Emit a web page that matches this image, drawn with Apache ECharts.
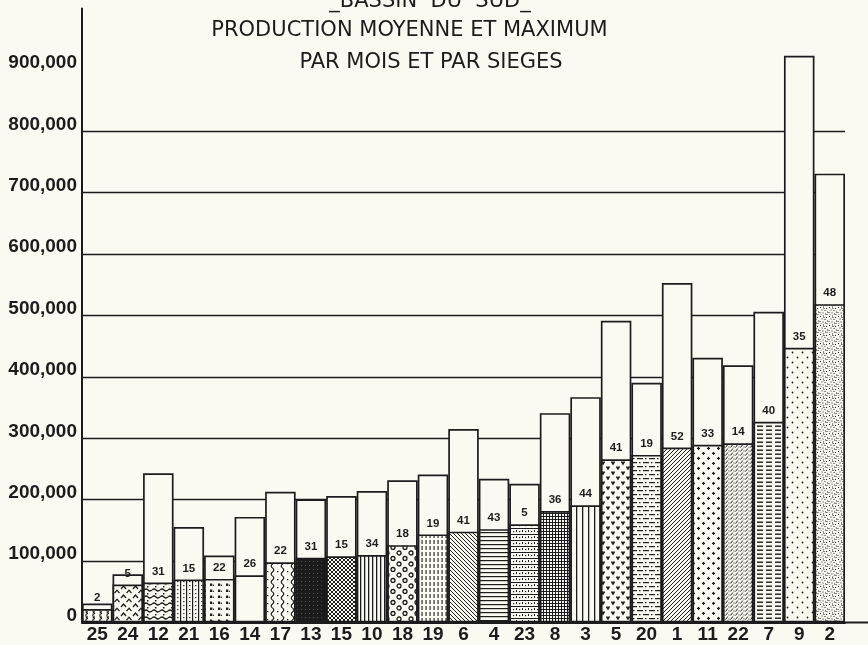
<!DOCTYPE html>
<html>
<head>
<meta charset="utf-8">
<script src="https://cdn.jsdelivr.net/npm/echarts@6/dist/echarts.min.js"></script>
<style>
  html, body { margin: 0; padding: 0; background: #fbfaf2; }
  #chart { width: 868px; height: 645px; }
</style>
</head>
<body>
<div id="chart"></div>
<script>
// ---- data ----
const categories = ['25','24','12','21','16','14','17','13','15','10','18','19','6','4','23','8','3','5','20','1','11','22','7','9','2'];
const maxValues  = [31000,78500,243000,155500,109000,172000,213000,200500,206000,214000,231500,241000,315000,234000,226000,341000,367000,491500,390500,553000,431000,419000,506000,923000,731000];
const meanValues = [22000,62000,65000,70000,71000,77000,98000,105500,108000,110000,126000,143500,148000,152000,160000,181500,191000,266000,273000,285000,289500,292000,327000,447500,518500];
const siegeCounts = [2,5,31,15,22,26,22,31,15,34,18,19,41,43,5,36,44,41,19,52,33,14,40,35,48];
const gridValues = [100000,200000,300000,400000,500000,600000,700000,800000];
const titleLines = ['_BASSIN  DU  SUD_', 'PRODUCTION MOYENNE ET MAXIMUM', 'PAR MOIS ET PAR SIEGES'];

// ---- styles ----
const INK = '#1c1c1c';
const BG = '#fbfaf2';
const LABEL_FONT = "'Liberation Sans', Arial, sans-serif";
const TITLE_FONT = "'DejaVu Sans', sans-serif";

function tile(w, h, draw) {
  const c = document.createElement('canvas');
  c.width = w; c.height = h;
  const g = c.getContext('2d');
  g.fillStyle = BG; g.fillRect(0, 0, w, h);
  g.strokeStyle = INK; g.fillStyle = INK; g.lineWidth = 1;
  if (draw) draw(g, w, h);
  return { image: c, repeat: 'repeat' };
}
function line(g, pts, lw) {
  g.lineWidth = lw || 1;
  g.beginPath(); g.moveTo(pts[0][0], pts[0][1]);
  for (let i = 1; i < pts.length; i++) g.lineTo(pts[i][0], pts[i][1]);
  g.stroke();
}
function dot(g, x, y, r) { g.beginPath(); g.arc(x, y, r, 0, Math.PI * 2); g.fill(); }

const patterns = {
  squiggle: tile(7, 5, g => { g.lineWidth = 1.1; g.beginPath(); g.moveTo(1, 0.8); g.quadraticCurveTo(4.5, 1.2, 2.5, 2.5); g.quadraticCurveTo(5, 3.6, 1.5, 4.4); g.stroke(); }),
  carets: tile(12, 9, g => { line(g, [[1,4],[3.5,1],[6,4]], 1.3); line(g, [[6.5,8.2],[9,5.2],[11.5,8.2]], 1.3); }),
  wavyDots: tile(8, 7, g => { g.lineWidth = 1.2; g.beginPath(); g.moveTo(0, 2); g.quadraticCurveTo(2, 0, 4, 2); g.quadraticCurveTo(6, 4, 8, 2); g.stroke(); g.fillRect(3, 5, 1.5, 1.5); }),
  vlinesDots: tile(6, 4, g => { g.fillRect(0, 0, 1.2, 4); g.fillRect(3.2, 1, 1.2, 1.2); }),
  blocks: tile(8, 6, g => { g.fillRect(2, 1.5, 2.2, 2.5); g.fillRect(4.8, 2.5, 1, 1.5); }),
  empty: tile(4, 4, null),
  vwavesDots: tile(10, 8, g => { g.lineWidth = 1.2; g.beginPath(); g.moveTo(2.5, 0); g.quadraticCurveTo(5, 2, 2.5, 4); g.quadraticCurveTo(0, 6, 2.5, 8); g.stroke(); g.fillRect(7, 3, 1.3, 1.3); }),
  solid: tile(4, 4, g => { g.fillRect(0, 0, 4, 4); g.fillStyle = '#4a4a4a'; g.fillRect(1, 1, 1, 1); }),
  crossFine: tile(4, 4, g => { line(g, [[-1,-1],[5,5]]); line(g, [[5,-1],[-1,5]]); }),
  vlines: tile(4, 2, g => { g.fillRect(0, 0, 1.3, 2); }),
  rings: tile(12, 11, g => { g.lineWidth = 1.3; g.beginPath(); g.arc(3, 3, 2, 0, Math.PI * 2); g.stroke(); g.beginPath(); g.arc(9, 8.5, 2, 0, Math.PI * 2); g.stroke(); }),
  vdash: tile(4, 6, g => { g.fillRect(1.5, 0, 1.1, 4); }),
  diagBack: tile(4, 4, g => { line(g, [[-1,-1],[5,5]]); line(g, [[3,-1],[5,1]]); line(g, [[-1,3],[1,5]]); }),
  hlines: tile(2, 4, g => { g.fillRect(0, 0, 2, 1.2); }),
  gridDots: tile(6, 6, g => { g.fillRect(0, 0, 6, 1); g.fillRect(0, 2, 1, 2); g.fillRect(3, 3, 1.2, 1.2); }),
  fineGrid: tile(3, 3, g => { g.fillRect(0, 0, 3, 1); g.fillRect(0, 0, 1, 3); }),
  vlinesWide: tile(6, 2, g => { g.fillRect(0, 0, 1.3, 2); }),
  vees: tile(10, 10, g => { line(g, [[1.5,1.5],[3,4],[4.5,1.5]], 1.5); line(g, [[6.5,6.5],[8,9],[9.5,6.5]], 1.5); }),
  dashDot: tile(12, 8, g => { g.fillRect(1, 2, 6, 1.2); g.fillRect(9, 2, 1.5, 1.2); g.fillRect(7, 6, 5, 1.2); g.fillRect(0, 6, 1, 1.2); g.fillRect(3, 6, 1.5, 1.2); }),
  diagFwd: tile(4, 4, g => { line(g, [[-1,5],[5,-1]]); line(g, [[-1,1],[1,-1]]); line(g, [[3,5],[5,3]]); }),
  plus: tile(10, 10, g => { g.fillRect(2, 2.8, 3, 1.2); g.fillRect(2.9, 1.9, 1.2, 3); g.fillRect(7, 7.8, 3, 1.2); g.fillRect(7.9, 6.9, 1.2, 3); }),
  dashDense: tile(5, 4, g => { line(g, [[0.5,3.5],[2.8,0.5]], 1); g.fillRect(3.5, 2.5, 1, 1); }),
  hdashes: tile(9, 4, g => { g.fillRect(1, 1.5, 6, 1.4); }),
  dotsSparse: tile(10, 10, g => { dot(g, 2.5, 2.5, 0.9); dot(g, 7.5, 7.5, 0.9); }),
  stipple: tile(9, 9, g => {
    [[1,1],[4,0.5],[7,2],[2.5,3.5],[5.5,4],[8,5.5],[0.5,6],[3.5,6.5],[6,7.5],[1.5,8.5],[4.5,2],[7.5,8]].forEach(p => g.fillRect(p[0], p[1], 1, 1));
  })
};
const barPatterns = ['squiggle','carets','wavyDots','vlinesDots','blocks','empty','vwavesDots','solid','crossFine','vlines',
  'rings','vdash','diagBack','hlines','gridDots','fineGrid','vlinesWide','vees','dashDot','diagFwd','plus','dashDense','hdashes','dotsSparse','stipple'];

const chart = echarts.init(document.getElementById('chart'), null, { renderer: 'canvas' });

const option = {
  backgroundColor: BG,
  animation: false,
  grid: { left: 82, right: 23, top: 8.5, bottom: 22.5, containLabel: false, outerBoundsMode: 'none' },
  xAxis: {
    type: 'category',
    data: categories,
    axisLine: { show: true, lineStyle: { color: INK, width: 2 } },
    axisTick: { show: false },
    axisLabel: { color: INK, fontFamily: LABEL_FONT, fontWeight: 'bold', fontSize: 19, margin: 3, interval: 0 },
    splitLine: { show: false }
  },
  yAxis: {
    type: 'value',
    min: 0, max: 1000000, interval: 100000,
    axisLine: { show: true, lineStyle: { color: INK, width: 2 } },
    axisTick: { show: false },
    splitLine: { show: false },
    axisLabel: {
      color: INK, fontFamily: LABEL_FONT, fontWeight: 'bold', fontSize: 19, margin: 5,
      verticalAlign: 'bottom', lineHeight: 14,
      formatter: v => v > 900000 ? '' : v.toLocaleString('en-US')
    }
  },
  series: [
    {
      type: 'line', data: [], z: 1, silent: true,
      markLine: {
        z: 1, silent: true, symbol: 'none', label: { show: false },
        lineStyle: { color: INK, width: 1.4, type: 'solid' },
        emphasis: { disabled: true },
        data: gridValues.map(v => ({ yAxis: v }))
      }
    },
    {
      type: 'bar', name: 'maximum', z: 2,
      data: maxValues,
      barGap: '-100%', barCategoryGap: '0%',
      itemStyle: { color: BG, borderColor: INK, borderWidth: 1.7 },
      emphasis: { disabled: true }
    },
    {
      type: 'bar', name: 'moyenne', z: 3,
      data: meanValues.map((v, i) => ({ value: v, itemStyle: { color: patterns[barPatterns[i]] } })),
      barGap: '-100%', barCategoryGap: '0%',
      itemStyle: { borderColor: INK, borderWidth: 1.7 },
      emphasis: { disabled: true },
      label: {
        show: true, position: 'top', distance: 5,
        color: INK, fontFamily: LABEL_FONT, fontWeight: 'bold', fontSize: 11.5,
        formatter: p => String(siegeCounts[p.dataIndex])
      }
    }
  ],
  graphic: [
    { type: 'text', x: 430, y: 1.5, style: { text: titleLines[0], fontFamily: TITLE_FONT, fontSize: 21, fill: INK, align: 'center', verticalAlign: 'middle' } },
    { type: 'text', x: 409.5, y: 30.8, style: { text: titleLines[1], fontFamily: TITLE_FONT, fontSize: 21, fill: INK, align: 'center', verticalAlign: 'middle' } },
    { type: 'text', x: 431, y: 62.2, style: { text: titleLines[2], fontFamily: TITLE_FONT, fontSize: 21, fill: INK, align: 'center', verticalAlign: 'middle' } },
    { type: 'line', shape: { x1: 845, y1: 622.5, x2: 868, y2: 622.5 }, style: { stroke: INK, lineWidth: 2 } }
  ]
};
chart.setOption(option);
</script>
</body>
</html>
